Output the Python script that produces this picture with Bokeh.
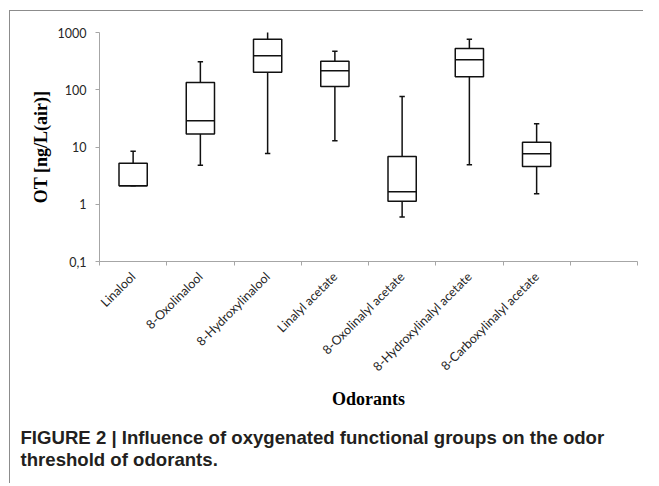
import math
from bokeh.plotting import figure
from bokeh.models import (FixedTicker, CustomJSTickFormatter, Range1d, Title,
                          ColumnDataSource)
from bokeh.embed import file_html
from bokeh.resources import INLINE

# ---- data ----
categories = ["Linalool", "8-Oxolinalool", "8-Hydroxylinalool", "Linalyl acetate",
              "8-Oxolinalyl acetate", "8-Hydroxylinalyl acetate",
              "8-Carboxylinalyl acetate"]
mins = [2.1, 4.8, 7.7, 12.8, 0.60, 4.9, 1.52]
q1s = [2.1, 16.8, 203, 114, 1.13, 168, 4.56]
medians = [2.1, 28.7, 392, 214, 1.65, 333, 7.6]
q3s = [5.2, 134, 764, 316, 6.8, 525, 12.1]
maxs = [8.4, 307, 1127, 472, 76, 764, 25.4]
n_slots = 8
y_ticks = [0.1, 1, 10, 100, 1000]
y_title = "OT [ng/L(air)]"
x_title = "Odorants"
caption_lines = ["FIGURE 2 | Influence of oxygenated functional groups on the odor",
                 "threshold of odorants."]

centers = [i + 0.5 for i in range(len(categories))]
box_w = 0.42
cap_w = 0.04

src = ColumnDataSource(dict(
    x=centers,
    xl=[c - box_w / 2 for c in centers],
    xr=[c + box_w / 2 for c in centers],
    cl=[c - cap_w for c in centers],
    cr=[c + cap_w for c in centers],
    mn=mins, q1=q1s, med=medians, q3=q3s, mx=maxs,
))

FRAME_C = "#8c8c8c"
bg = (f"linear-gradient({FRAME_C}, {FRAME_C}) 9px 10px / 1px calc(100% - 10px) no-repeat, "
      f"linear-gradient({FRAME_C}, {FRAME_C}) 9px 10px / calc(100% - 9px) 1px no-repeat, #ffffff")

p = figure(width=643, height=483, y_axis_type="log",
           x_range=Range1d(0, n_slots), y_range=Range1d(0.1, 1000),
           output_backend="svg", toolbar_location=None,
           min_border_left=99, min_border_right=6,
           min_border_top=32, min_border_bottom=222,
           background_fill_color="white", border_fill_color=None,
           styles={"background": bg})
p.outline_line_color = None
p.grid.visible = False

LC = "#111111"
LW = 1.5
# whiskers
p.segment(x0="x", y0="q3", x1="x", y1="mx", source=src, line_color=LC, line_width=LW)
p.segment(x0="x", y0="q1", x1="x", y1="mn", source=src, line_color=LC, line_width=LW)
# caps
p.segment(x0="cl", y0="mx", x1="cr", y1="mx", source=src, line_color=LC, line_width=LW)
p.segment(x0="cl", y0="mn", x1="cr", y1="mn", source=src, line_color=LC, line_width=LW)
# boxes
p.vbar(x="x", width=box_w, top="q3", bottom="q1", source=src,
       fill_color="white", line_color=LC, line_width=LW)
# medians
p.segment(x0="xl", y0="med", x1="xr", y1="med", source=src, line_color=LC, line_width=LW)

AXC = "#a6a6a6"
TICK_FONT = "Lato"
TICK_SIZE = "12.5px"
TICK_COLOR = "#262626"

# x axis
xa = p.xaxis[0]
xa.ticker = FixedTicker(ticks=centers, minor_ticks=list(range(n_slots + 1)))
xa.formatter = CustomJSTickFormatter(args=dict(names=categories),
                                     code="const i = Math.floor(tick); return (i >= 0 && i < names.length) ? names[i] : '';")
xa.major_label_orientation = math.pi / 4
xa.axis_line_color = AXC
xa.major_tick_line_color = None
xa.major_tick_out = 4
xa.major_tick_in = 0
xa.minor_tick_line_color = AXC
xa.minor_tick_out = 4
xa.minor_tick_in = 0
xa.major_label_standoff = 9
xa.major_label_text_font = TICK_FONT
xa.major_label_text_font_size = TICK_SIZE
xa.major_label_text_color = TICK_COLOR
xa.axis_label = x_title
xa.axis_label_text_font = "Liberation Serif"
xa.axis_label_text_font_style = "bold"
xa.axis_label_text_font_size = "18px"
xa.axis_label_text_color = "black"
xa.axis_label_standoff = 7

# y axis
ya = p.yaxis[0]
ya.ticker = FixedTicker(ticks=y_ticks)
ya.formatter = CustomJSTickFormatter(code="return String(tick).replace('.', ',');")
ya.axis_line_color = AXC
ya.major_tick_line_color = AXC
ya.major_tick_out = 4
ya.major_tick_in = 0
ya.minor_tick_line_color = None
ya.major_label_standoff = 9
ya.major_label_text_font = TICK_FONT
ya.major_label_text_font_size = TICK_SIZE
ya.major_label_text_color = TICK_COLOR
ya.axis_label = y_title
ya.axis_label_text_font = "Liberation Serif"
ya.axis_label_text_font_style = "bold"
ya.axis_label_text_font_size = "18px"
ya.axis_label_text_color = "black"
ya.axis_label_standoff = 4

# caption below the chart (two lines in one title)
p.add_layout(Title(text="\n".join(caption_lines), align="left", offset=-79,
                   standoff=25, text_line_height=1.05,
                   text_font="Liberation Sans", text_font_style="bold",
                   text_font_size="18.6px", text_color="#231f20"), "below")

open("out.html", "w").write(file_html(p, INLINE))
